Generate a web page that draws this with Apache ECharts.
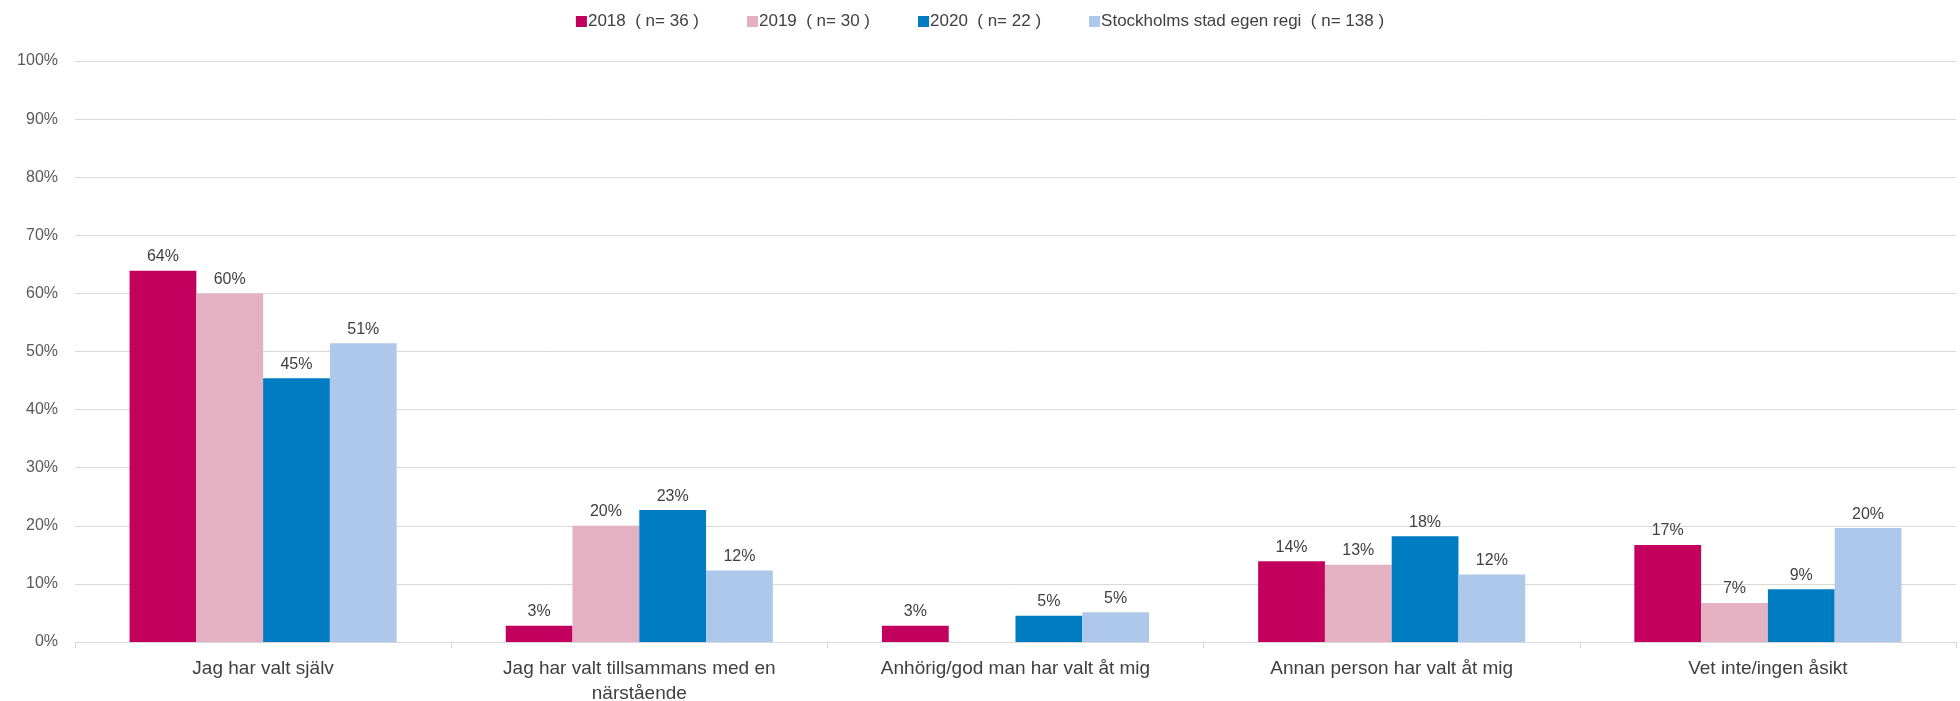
<!DOCTYPE html>
<html>
<head>
<meta charset="utf-8">
<script src="https://cdn.jsdelivr.net/npm/echarts@6/dist/echarts.min.js"></script>
<style>
  html, body { margin: 0; padding: 0; background: #fff; }
  #chartWrap { width: 1960px; height: 701px; }
</style>
</head>
<body>
<div id="chartWrap"></div>
<script>
var categories = [
  'Jag har valt själv',
  'Jag har valt tillsammans med en\nnärstående',
  'Anhörig/god man har valt åt mig',
  'Annan person har valt åt mig',
  'Vet inte/ingen åsikt'
];
var seriesNames = ['2018  ( n= 36 )', '2019  ( n= 30 )', '2020  ( n= 22 )', 'Stockholms stad egen regi  ( n= 138 )'];
var colors = ['#C4005F', '#E3B1C2', '#007CC2', '#AEC8EB'];

// andelar i procent
var v2018 = [63.9, 2.8, 2.8, 13.9, 16.7];
var v2019 = [60.0, 20.0, 0, 13.3, 6.7];
var v2020 = [45.4, 22.7, 4.5, 18.2, 9.1];
var vStockholm = [51.4, 12.3, 5.1, 11.6, 19.6];

var yTicks = [0, 10, 20, 30, 40, 50, 60, 70, 80, 90, 100];

var FONT = '"Liberation Sans", Arial, sans-serif';

var allValues = [v2018, v2019, v2020, vStockholm];
var series = [];
for (var i = 0; i < allValues.length; i++) {
  series.push({
    name: seriesNames[i],
    type: 'bar',
    data: allValues[i],
    barGap: '0%',
    barCategoryGap: '29%',
    itemStyle: { color: colors[i] },
    label: {
      show: true,
      position: 'top',
      distance: 6,
      color: '#404040',
      fontSize: 16,
      fontFamily: FONT,
      formatter: function(p) {
        if (!p.value) return '';
        return Math.round(p.value) + '%';
      }
    }
  });
}

var myChart = echarts.init(document.getElementById('chartWrap'));
myChart.setOption({
  animation: false,
  textStyle: { fontFamily: FONT },
  legend: {
    top: 8,
    left: 'center',
    itemWidth: 11,
    itemHeight: 11,
    itemGap: 48,
    icon: 'rect',
    textStyle: { fontSize: 17, color: '#404040', fontFamily: FONT, padding: [0, 0, 0, -4] },
    data: seriesNames
  },
  grid: { left: 75, right: 4, top: 61, bottom: 59, containLabel: false, outerBoundsMode: 'none' },
  xAxis: {
    type: 'category',
    data: categories,
    axisLine: { lineStyle: { color: '#d9d9d9', width: 1 } },
    axisTick: { show: true, alignWithLabel: false, length: 6, lineStyle: { color: '#d9d9d9' } },
    axisLabel: { color: '#404040', fontSize: 19, margin: 14, lineHeight: 25, fontFamily: FONT }
  },
  yAxis: {
    type: 'value',
    min: yTicks[0],
    max: yTicks[yTicks.length - 1],
    interval: 10,
    axisLine: { show: false },
    axisTick: { show: false },
    splitLine: { lineStyle: { color: '#d9d9d9', width: 1 } },
    axisLabel: {
      color: '#595959',
      fontSize: 16,
      margin: 17,
      fontFamily: FONT,
      formatter: '{value}%'
    }
  },
  series: series
});
</script>
</body>
</html>
